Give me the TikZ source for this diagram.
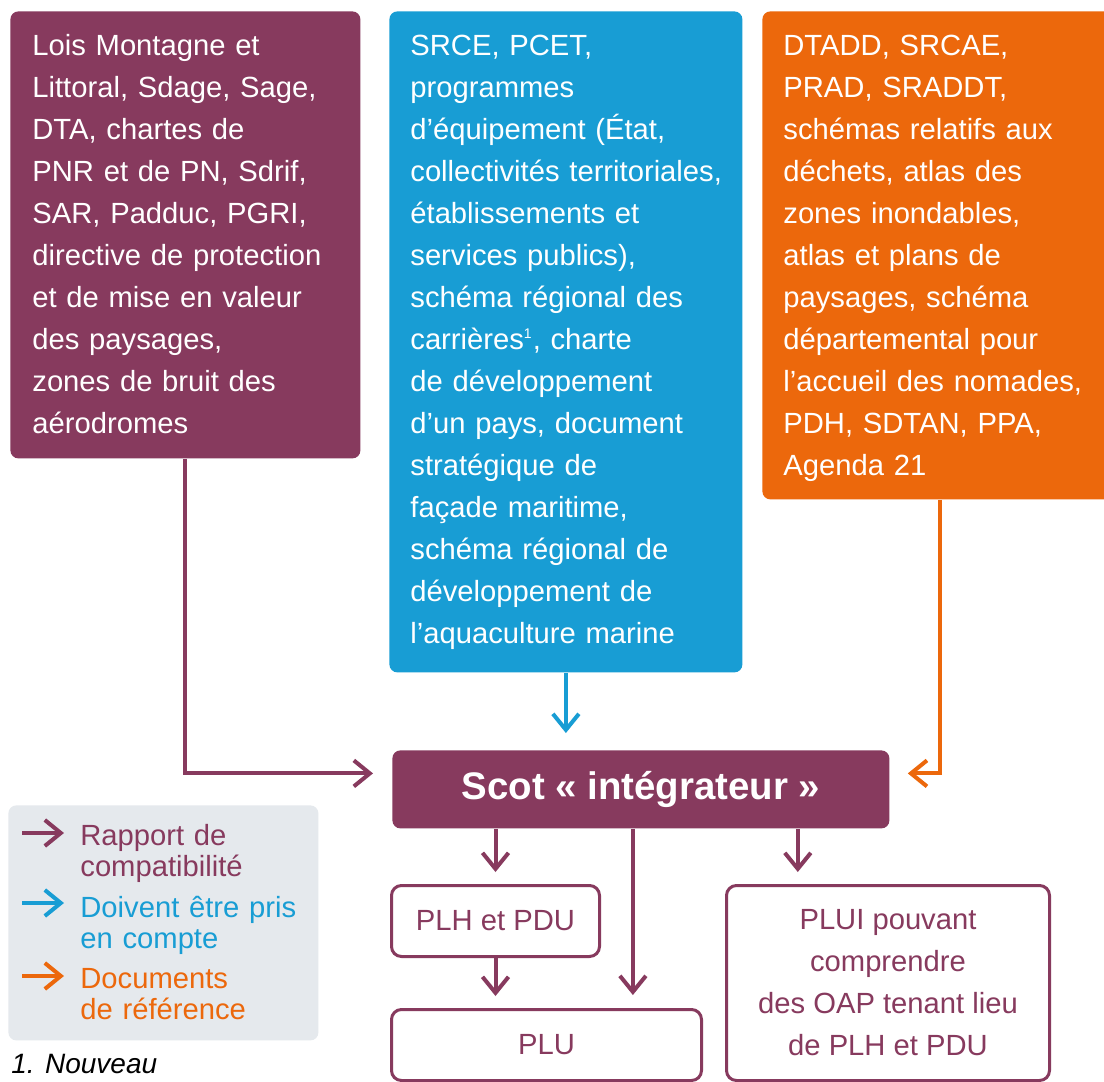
\documentclass[tikz,border=0pt]{standalone}
\usepackage{fontspec}
\setmainfont{Liberation Sans}
\usetikzlibrary{arrows.meta,calc}
\definecolor{prune}{RGB}{135,58,94}
\definecolor{bleu}{RGB}{24,157,212}
\definecolor{orangeref}{RGB}{236,104,12}
\definecolor{grisleg}{RGB}{229,233,237}

\begin{document}
\begin{tikzpicture}[x=0.5pt,y=-0.5pt,
    bloc/.style={rounded corners=4pt,anchor=north west,inner sep=0pt},
    texte/.style={anchor=base west,inner sep=0pt,text width=180pt,align=left,text=white,font=\fontsize{14.6}{21}\selectfont},
    legtexte/.style={anchor=base west,inner sep=0pt,text width=150pt,align=left,font=\fontsize{14.6}{15.5}\selectfont},
    cadre/.style={draw=prune,line width=1.5pt,fill=white,rounded corners=5pt,anchor=north west,inner sep=0pt,text=prune,align=center,font=\fontsize{14.6}{21}\selectfont},
    fleche/.style={line width=2pt,-{Straight Barb[length=8pt,width=13pt]}}]
    \fill[white](0,0) rectangle (1104,1082);
    \useasboundingbox(0,0) rectangle (1104,1082);

    % les trois familles de documents
    \node[bloc,fill=prune,minimum width=175pt,minimum height=223.5pt](lois) at (10,11) {};
    \node[texte](lois-txt) at (32,55) {Lois Montagne et\\Littoral, Sdage, Sage,\\DTA, chartes de\\PNR et de PN, Sdrif,\\SAR, Padduc, PGRI,\\directive de protection\\et de mise en valeur\\des paysages,\\zones de bruit des\\aérodromes};

    \node[bloc,fill=bleu,minimum width=176.5pt,minimum height=330.5pt](srce) at (389,11) {};
    \node[texte](srce-txt) at (410,55) {SRCE, PCET,\\programmes\\d’équipement (État,\\collectivités territoriales,\\établissements et\\services publics),\\schéma régional des\\carrières\textsuperscript{\scriptsize 1}, charte\\de développement\\d’un pays, document\\stratégique de\\façade maritime,\\schéma régional de\\développement de\\l’aquaculture marine};

    \node[bloc,fill=orangeref,minimum width=178pt,minimum height=244pt](dtadd) at (762,11) {};
    \node[texte](dtadd-txt) at (783,55) {DTADD, SRCAE,\\PRAD, SRADDT,\\schémas relatifs aux\\déchets, atlas des\\zones inondables,\\atlas et plans de\\paysages, schéma\\départemental pour\\l’accueil des nomades,\\PDH, SDTAN, PPA,\\Agenda 21};

    % le Scot et les documents en aval
    \node[bloc,fill=prune,minimum width=248.5pt,minimum height=39pt,text=white,font=\fontsize{19.2}{22}\selectfont\bfseries](scot) at (392,750) {Scot «~intégrateur~»};
    \node[cadre,minimum width=104pt,minimum height=35.5pt](plh) at (390,884) {PLH et PDU};
    \node[cadre,minimum width=155pt,minimum height=35.5pt](plu) at (390,1008) {PLU};
    \node[cadre,minimum width=161.5pt,minimum height=97.5pt](plui) at (725,884) {PLUI pouvant\\comprendre\\des OAP tenant lieu\\de PLH et PDU};

    \draw[fleche,prune,shorten >=9.5pt](lois.south) |- ([yshift=8pt]scot.west);
    \draw[fleche,bleu,shorten >=8.5pt](srce.south) -- (srce.south |- scot.north);
    \draw[fleche,orangeref,shorten >=9pt](dtadd.south) |- ([yshift=8pt]scot.east);
    \draw[fleche,prune,shorten >=6pt](plh.north |- scot.south) -- (plh.north);
    \draw[fleche,prune,shorten >=6.5pt]([xshift=-4pt]scot.south) -- ([xshift=-4pt]scot.south |- plu.north);
    \draw[fleche,prune,shorten >=6pt](plh.south) -- (plh.south |- plu.north);
    \draw[fleche,prune,shorten >=6pt]([xshift=-46pt]scot.south east) -- ([xshift=-46pt]scot.south east |- plui.north);

    % legende
    \node[bloc,fill=grisleg,minimum width=155pt,minimum height=117.5pt](legende) at (8,805) {};
    \coordinate(l1) at (22,833);
    \coordinate(l2) at (22,903);
    \coordinate(l3) at (22,976);
    \draw[fleche,prune](l1) -- ++(42,0);
    \draw[fleche,bleu](l2) -- ++(42,0);
    \draw[fleche,orangeref](l3) -- ++(42,0);
    \node[legtexte,text=prune](rapport) at (80,845) {Rapport de\\compatibilité};
    \node[legtexte,text=bleu](prisencompte) at (80,917) {Doivent être pris\\en compte};
    \node[legtexte,text=orangeref](reference) at (80,988) {Documents\\de référence};

    \node[anchor=base west,inner sep=0pt,font=\fontsize{14}{17}\selectfont\itshape](note) at (11,1073) {1. Nouveau};
  \end{tikzpicture}
\end{document}
